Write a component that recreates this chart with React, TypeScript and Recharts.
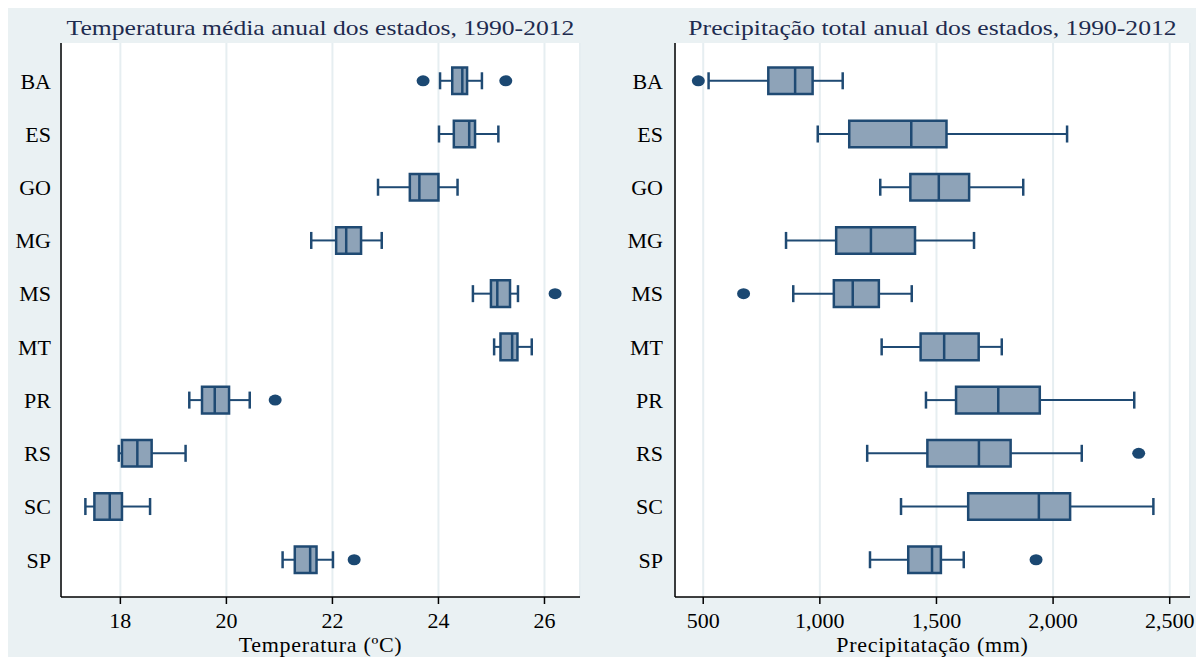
import {
  CartesianGrid,
  ComposedChart,
  ReferenceArea,
  ReferenceLine,
  Scatter,
  XAxis,
  YAxis,
} from "recharts";

const states = ["BA", "ES", "GO", "MG", "MS", "MT", "PR", "RS", "SC", "SP"];
const stateTicks = [1, 2, 3, 4, 5, 6, 7, 8, 9, 10];

// Temperatura média anual (°C), 1990-2012
const tempMin = [24.03, 24.01, 22.86, 21.6, 24.65, 25.05, 19.3, 17.97, 17.34, 21.06];
const tempQ1 = [24.26, 24.29, 23.46, 22.07, 24.99, 25.17, 19.54, 18.03, 17.51, 21.29];
const tempMedian = [24.45, 24.58, 23.64, 22.26, 25.11, 25.39, 19.78, 18.32, 17.8, 21.58];
const tempQ3 = [24.54, 24.69, 24.0, 22.54, 25.35, 25.49, 20.05, 18.59, 18.03, 21.7];
const tempMax = [24.82, 25.13, 24.36, 22.93, 25.5, 25.76, 20.44, 19.23, 18.56, 22.01];
const tempOutliers = [[23.71, 25.27], [], [], [], [26.2], [], [20.92], [], [], [22.41]];
const tempTicks = [18, 20, 22, 24, 26];

// Precipitação total anual (mm), 1990-2012
const precMin = [523, 991, 1259, 855, 886, 1265, 1455, 1203, 1348, 1215];
const precQ1 = [779, 1126, 1388, 1070, 1060, 1432, 1584, 1461, 1636, 1379];
const precMedian = [894, 1392, 1510, 1219, 1141, 1533, 1765, 1682, 1939, 1481];
const precQ3 = [969, 1543, 1640, 1408, 1253, 1681, 1943, 1818, 2073, 1519];
const precMax = [1098, 2060, 1872, 1661, 1394, 1780, 2348, 2123, 2430, 1617];
const precOutliers = [[479], [], [], [], [673], [], [], [2367], [], [1927]];
const precTicks = [500, 1000, 1500, 2000, 2500];

const BOX = "#8EA3B8";
const LINE = "#1F4A73";
const DOT = "#1B4872";
const FONT = "'Liberation Serif', 'Times New Roman', serif";

type PanelProps = {
  title: string;
  xLabel: string;
  domain: [number, number];
  ticks: number[];
  formatTick: (v: number) => string;
  mins: number[];
  q1s: number[];
  medians: number[];
  q3s: number[];
  maxs: number[];
  outliers: number[][];
  yAxisWidth: number;
  marginRight: number;
  labelGap: number;
};

function Outlier(props: { cx?: number; cy?: number }) {
  if (props.cx == null || props.cy == null) return null;
  return <ellipse cx={props.cx} cy={props.cy} rx={6.5} ry={5.5} fill={DOT} />;
}

function BoxPanel(p: PanelProps) {
  const outlierData = p.outliers.flatMap((vals, i) => vals.map((v) => ({ x: v, y: i + 1 })));
  const plotLeft = p.yAxisWidth;
  const plotWidth = 594 - p.yAxisWidth - p.marginRight;

  return (
    <div style={{ position: "relative", width: 594, height: 649 }}>
      <div
        style={{
          position: "absolute",
          left: plotLeft,
          width: plotWidth,
          top: 9,
          textAlign: "center",
          fontFamily: FONT,
          fontSize: 22,
          lineHeight: "22px",
          color: "#1E2B4F",
          whiteSpace: "nowrap",
          transform: "scaleX(1.165)",
        }}
      >
        {p.title}
      </div>
      <ComposedChart
        width={594}
        height={649}
        margin={{ top: 35, right: p.marginRight, bottom: 0, left: 0 }}
      >
        <CartesianGrid horizontal={false} stroke="#E6EEF1" strokeWidth={2} fill="#fff" />
        <XAxis
          type="number"
          dataKey="x"
          domain={p.domain}
          ticks={p.ticks}
          allowDataOverflow
          tickFormatter={p.formatTick}
          height={60}
          tickSize={7}
          tickMargin={8}
          axisLine={{ stroke: "#000", strokeWidth: 1.5 }}
          tickLine={{ stroke: "#000", strokeWidth: 1.5 }}
          tick={{ fill: "#000", fontSize: 22, fontFamily: FONT }}
          label={{
            value: p.xLabel,
            position: "insideBottom",
            offset: 5,
            fill: "#000",
            fontSize: 22,
            fontFamily: FONT,
            letterSpacing: 0.7,
          }}
        />
        <YAxis
          type="number"
          dataKey="y"
          domain={[0.29, 10.7]}
          reversed
          ticks={stateTicks}
          allowDataOverflow
          interval={0}
          tickFormatter={(v: number) => states[v - 1]}
          width={p.yAxisWidth}
          tickSize={0}
          tickMargin={p.labelGap}
          tickLine={false}
          axisLine={{ stroke: "#000", strokeWidth: 1.5 }}
          tick={{ fill: "#000", fontSize: 22, fontFamily: FONT }}
        />

        {/* bigodes */}
        {states.map((s, i) => (
          <ReferenceLine
            key={`wl-${s}`}
            segment={[{ x: p.mins[i], y: i + 1 }, { x: p.q1s[i], y: i + 1 }]}
            stroke={LINE}
            strokeWidth={2}
          />
        ))}
        {states.map((s, i) => (
          <ReferenceLine
            key={`wr-${s}`}
            segment={[{ x: p.q3s[i], y: i + 1 }, { x: p.maxs[i], y: i + 1 }]}
            stroke={LINE}
            strokeWidth={2}
          />
        ))}
        {states.map((s, i) => (
          <ReferenceLine
            key={`cl-${s}`}
            segment={[{ x: p.mins[i], y: i + 1 - 0.16 }, { x: p.mins[i], y: i + 1 + 0.16 }]}
            stroke={LINE}
            strokeWidth={2.5}
          />
        ))}
        {states.map((s, i) => (
          <ReferenceLine
            key={`cr-${s}`}
            segment={[{ x: p.maxs[i], y: i + 1 - 0.16 }, { x: p.maxs[i], y: i + 1 + 0.16 }]}
            stroke={LINE}
            strokeWidth={2.5}
          />
        ))}

        {/* caixas */}
        {states.map((s, i) => (
          <ReferenceArea
            key={`box-${s}`}
            x1={p.q1s[i]}
            x2={p.q3s[i]}
            y1={i + 1 - 0.25}
            y2={i + 1 + 0.25}
            fill={BOX}
            fillOpacity={1}
            stroke={LINE}
            strokeWidth={2.5}
          />
        ))}

        {/* medianas */}
        {states.map((s, i) => (
          <ReferenceLine
            key={`med-${s}`}
            segment={[{ x: p.medians[i], y: i + 1 - 0.25 }, { x: p.medians[i], y: i + 1 + 0.25 }]}
            stroke={LINE}
            strokeWidth={2.5}
          />
        ))}

        <Scatter data={outlierData} dataKey="x" shape={<Outlier />} isAnimationActive={false} />
      </ComposedChart>
    </div>
  );
}

export default function App() {
  return (
    <div
      style={{
        position: "absolute",
        top: 0,
        left: 0,
        width: 1196,
        height: 657,
        background: "#fff",
        overflow: "hidden",
      }}
    >
      <div
        style={{
          position: "absolute",
          top: 8,
          left: 8,
          width: 1188,
          height: 649,
          background: "#EAF1F3",
          display: "flex",
        }}
      >
        <BoxPanel
          title="Temperatura média anual dos estados, 1990-2012"
          xLabel="Temperatura (ºC)"
          domain={[16.88, 26.67]}
          ticks={tempTicks}
          formatTick={(v) => String(v)}
          mins={tempMin}
          q1s={tempQ1}
          medians={tempMedian}
          q3s={tempQ3}
          maxs={tempMax}
          outliers={tempOutliers}
          yAxisWidth={53}
          marginRight={22}
          labelGap={10}
        />
        <BoxPanel
          title="Precipitação total anual dos estados, 1990-2012"
          xLabel="Precipitatação (mm)"
          domain={[379, 2587]}
          ticks={precTicks}
          formatTick={(v) => v.toLocaleString("en-US")}
          mins={precMin}
          q1s={precQ1}
          medians={precMedian}
          q3s={precQ3}
          maxs={precMax}
          outliers={precOutliers}
          yAxisWidth={73}
          marginRight={6}
          labelGap={12}
        />
      </div>
    </div>
  );
}
